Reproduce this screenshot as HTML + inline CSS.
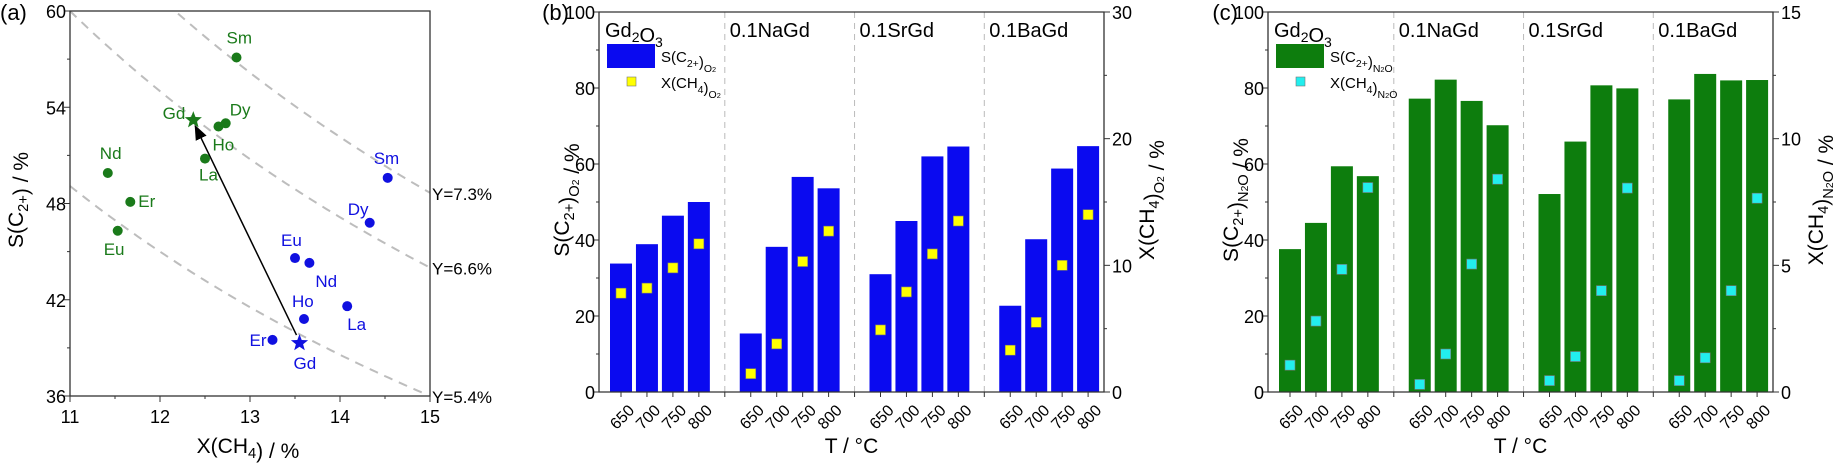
<!DOCTYPE html>
<html><head><meta charset="utf-8"><style>
body{margin:0;background:#fff}
svg{display:block;font-family:"Liberation Sans",sans-serif}
</style></head><body>
<svg id="fig" width="1842" height="468" viewBox="0 0 1842 468"></svg>
<script>
// ---------- DATA ----------
// Panel (a)
const aLabels = ["Sm","Gd","Ho","Dy","La","Nd","Er","Eu"];
const aGreenX = [12.85,12.37,12.65,12.73,12.5,11.42,11.67,11.53];
const aGreenY = [57.1,53.2,52.8,53.0,50.8,49.9,48.1,46.3];
const aBlueLabels = ["Sm","Dy","Eu","Nd","La","Ho","Er","Gd"];
const aBlueX = [14.53,14.33,13.5,13.66,14.08,13.6,13.25,13.55];
const aBlueY = [49.6,46.8,44.6,44.3,41.6,40.8,39.5,39.3];
const aYieldLines = [7.3,6.6,5.4];
const aXTicks = [11,12,13,14,15];
const aYTicks = [36,42,48,54,60];
// Panels (b),(c)
const groups = ["0.1NaGd","0.1SrGd","0.1BaGd"];
const temps = ["650","700","750","800"];
const bS = [33.8,38.9,46.4,50.0, 15.4,38.2,56.6,53.6, 31.0,45.0,62.0,64.6, 22.7,40.2,58.8,64.7];
const bX = [7.8,8.2,9.8,11.7, 1.45,3.8,10.3,12.7, 4.9,7.9,10.9,13.5, 3.3,5.5,10.0,14.0];
const cS = [37.6,44.5,59.4,56.8, 77.2,82.2,76.6,70.2, 52.1,65.9,80.7,79.9, 77.0,83.7,82.0,82.1];
const cX = [1.06,2.8,4.84,8.07, 0.3,1.5,5.05,8.4, 0.45,1.4,4.0,8.05, 0.45,1.35,4.0,7.65];
const bLeftTicks = [0,20,40,60,80,100];
const bRightTicks = [0,10,20,30];
const cRightTicks = [0,5,10,15];

// ---------- HELPERS ----------
const NS="http://www.w3.org/2000/svg";
const svg=document.getElementById('fig');
function el(tag,attrs,parent){const e=document.createElementNS(NS,tag);for(const k in attrs)e.setAttribute(k,attrs[k]);(parent||svg).appendChild(e);return e;}
function txt(x,y,html,size,anchor,fill,parent,rot){const t=el('text',{x:x,y:y,'font-size':size,'text-anchor':anchor||'start',fill:fill||'#000'},parent);if(rot!==undefined)t.setAttribute('transform','rotate('+rot+' '+x+' '+y+')');t.innerHTML=html;return t;}
const sub=(s)=>'<tspan dy="5" font-size="0.7em">'+s+'</tspan><tspan dy="-5"></tspan>';
const sub2=(s,t)=>'<tspan dy="5" font-size="0.7em">'+s+'</tspan><tspan dy="4" font-size="0.5em">'+t+'</tspan><tspan dy="-9"></tspan>';

// ---------- PANEL A ----------
(function(){
 const L=70,R=430,T=11,B=396;
 const sx=v=>L+(v-11)/(15-11)*(R-L), sy=v=>B-(v-36)/(60-36)*(B-T);
 const g=el('g',{});
 
 // yield curves
 aYieldLines.forEach(Y=>{
  let d='';let first=true;
  for(let x=11;x<=15.001;x+=0.05){const s=Y*100/x; if(s>60||s<36)continue; d+=(first?'M':'L')+sx(x).toFixed(1)+','+sy(s).toFixed(1);first=false;}
  const p=el('path',{d:d,fill:'none',stroke:'#bdbdbd','stroke-width':2,'stroke-dasharray':'9,7'},g);
  
  const t=txt(R+2,sy(Y*100/15)+7,'Y='+Y+'%',17,'start','#000',g);
  
 });
 el('rect',{x:L,y:T,width:R-L,height:B-T,fill:'none',stroke:'#333','stroke-width':1.3},g);
 aXTicks.forEach(v=>{el('line',{x1:sx(v),x2:sx(v),y1:B,y2:B+6,stroke:'#333'},g);txt(sx(v),B+27,v,18,'middle','#000',g);});
 for(let v=11.5;v<15;v+=1)el('line',{x1:sx(v),x2:sx(v),y1:B,y2:B+3,stroke:'#333'},g);
 aYTicks.forEach(v=>{el('line',{x1:L-6,x2:L,y1:sy(v),y2:sy(v),stroke:'#333'},g);txt(L-4,sy(v)+7,v,18,'end','#000',g);});
 for(let v=39;v<60;v+=6)el('line',{x1:L-3,x2:L,y1:sy(v),y2:sy(v),stroke:'#333'},g);
 txt(0,20,'(a)',22,'start','#000',g);
 txt(248,453,'X(CH'+sub('4')+') / %',21,'middle','#000',g);
 txt(23,200,'S(C'+sub('2+')+') / %',21,'middle','#000',g,-90);
 // arrow
 el('defs',{},g).innerHTML='<marker id="ah" markerWidth="10" markerHeight="10" refX="9" refY="5" orient="auto"><path d="M0,1 L10,5 L0,9 z" fill="#000"/></marker>';
 const ar=el('line',{x1:sx(aBlueX[7])-3,y1:sy(aBlueY[7])-8,x2:sx(aGreenX[1])+2,y2:sy(aGreenY[1])+6,stroke:'#000','stroke-width':1.5,'marker-end':'url(#ah)'},g);
 
 const star=(cx,cy,r,fill)=>{let d='';for(let i=0;i<10;i++){const a=-Math.PI/2+i*Math.PI/5,rr=i%2?r*0.42:r;d+=(i?'L':'M')+(cx+rr*Math.cos(a)).toFixed(1)+','+(cy+rr*Math.sin(a)).toFixed(1);}return el('path',{d:d+'Z',fill:fill},g);};
 const gOff={Sm:[-10,-14,'start'],Gd:[-8,-1,'end'],Ho:[-6,24,'start'],Dy:[4,-8,'start'],La:[-6,22,'start'],Nd:[-8,-14,'start'],Er:[8,5,'start'],Eu:[-14,24,'start']};
 aLabels.forEach((n,i)=>{
  const cx=sx(aGreenX[i]),cy=sy(aGreenY[i]);
  const m=n==='Gd'?star(cx,cy,9,'#1a7a1a'):el('circle',{cx:cx,cy:cy,r:5,fill:'#1a7a1a'},g);
  
  const o=gOff[n];txt(cx+o[0],cy+o[1],n,17,o[2],'#1a7a1a',g);
 });
 const bOff={Sm:[-14,-14,'start'],Dy:[-22,-8,'start'],Eu:[-14,-12,'start'],Nd:[6,24,'start'],La:[0,24,'start'],Ho:[-12,-12,'start'],Er:[-6,6,'end'],Gd:[-6,26,'start']};
 aBlueLabels.forEach((n,i)=>{
  const cx=sx(aBlueX[i]),cy=sy(aBlueY[i]);
  const m=n==='Gd'?star(cx,cy,9,'#1010e0'):el('circle',{cx:cx,cy:cy,r:5,fill:'#1010e0'},g);
  
  const o=bOff[n];txt(cx+o[0],cy+o[1],n,17,o[2],'#1010e0',g);
 });
})();

// ---------- BAR PANELS ----------
function barPanel(opt){
 const L=opt.L,R=L+505,T=12,B=392;
 const sx=s=>L+22+s*25.95;
 const syL=v=>B-v/100*(B-T), syR=v=>B-v/opt.rMax*(B-T);
 const g=el('g',{});
 
 [4,9,14].forEach(s=>el('line',{x1:sx(s),x2:sx(s),y1:T,y2:B,stroke:'#bbb','stroke-dasharray':'6,5'},g));
 opt.S.forEach((v,i)=>{const s=Math.floor(i/4)*5+i%4;
  const r=el('rect',{x:sx(s)-11,y:syL(v),width:22,height:B-syL(v),fill:opt.color},g);
  });
 opt.X.forEach((v,i)=>{const s=Math.floor(i/4)*5+i%4;
  const r=el('rect',{x:sx(s)-5,y:syR(v)-5,width:10,height:10,fill:opt.mcolor,stroke:'#777','stroke-width':0.6},g);
  });
 el('path',{d:'M'+L+','+B+'V'+T+'H'+R+'V'+B+'Z',fill:'none',stroke:'#333','stroke-width':1.3},g);
 bLeftTicks.forEach(v=>{el('line',{x1:L-6,x2:L,y1:syL(v),y2:syL(v),stroke:'#333'},g);txt(L-4,syL(v)+7,v,18,'end','#000',g);});
 for(let v=10;v<100;v+=20)el('line',{x1:L-3,x2:L,y1:syL(v),y2:syL(v),stroke:'#333'},g);
 opt.rTicks.forEach(v=>{el('line',{x1:R,x2:R+6,y1:syR(v),y2:syR(v),stroke:'#333'},g);txt(R+8,syR(v)+7,v,18,'start','#000',g);});
 for(let i=0;i<opt.rTicks.length-1;i++){const v=(opt.rTicks[i]+opt.rTicks[i+1])/2;el('line',{x1:R,x2:R+3,y1:syR(v),y2:syR(v),stroke:'#333'},g);}
 for(let gi=0;gi<4;gi++)temps.forEach((t,j)=>{const s=gi*5+j;
  el('line',{x1:sx(s),x2:sx(s),y1:B,y2:B+5,stroke:'#333'},g);
  txt(sx(s)+7,B+12,t,16,'end','#000',g,-45).setAttribute('dominant-baseline','hanging');});
 [4,9,14].forEach(s=>el('line',{x1:sx(s),x2:sx(s),y1:B,y2:B+5,stroke:'#333'},g));
 txt(L+6,37,'Gd'+sub('2')+'O'+sub('3'),20,'start','#000',g);
 groups.forEach((n,k)=>txt(sx(4+k*5)+5,37,n,20,'start','#000',g));
 txt(L-30,40,'('+opt.letter+')',22,'end','#000',g).setAttribute('y',20);
 // legend
 const lr=el('rect',{x:L+8,y:44,width:48,height:24,fill:opt.color},g);
 
 txt(L+62,62,'S(C'+sub('2+')+')'+opt.gasSub,15,'start','#000',g);
 el('rect',{x:L+28,y:77,width:9,height:9,fill:opt.mcolor,stroke:'#777','stroke-width':0.6},g);
 txt(L+62,88,'X(CH'+sub('4')+')'+opt.gasSub,15,'start','#000',g);
 txt(L-30,200,'S(C'+sub('2+')+')'+opt.gasSub+' / %',21,'middle','#000',g,-90);
 txt(R+50,200,'X(CH'+sub('4')+')'+opt.gasSub+' / %',21,'middle','#000',g,-90);
 txt((L+R)/2,453,'T / °C',21,'middle','#000',g);
}
barPanel({name:'panel-b',letter:'b',L:599,S:bS,X:bX,rMax:30,rTicks:bRightTicks,color:'#0a0af0',mcolor:'#ffff00',gasSub:sub('O<tspan font-size="0.7em">2</tspan>')});
barPanel({name:'panel-c',letter:'c',L:1268,S:cS,X:cX,rMax:15,rTicks:cRightTicks,color:'#0d7d0d',mcolor:'#22eeee',gasSub:sub('N<tspan font-size="0.7em">2</tspan>O')});
</script>
</body></html>
